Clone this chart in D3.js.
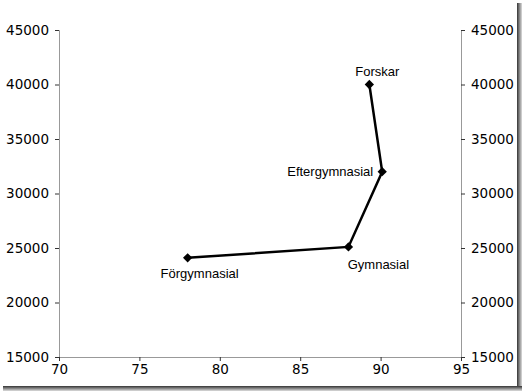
<!DOCTYPE html>
<html>
<head>
<meta charset="utf-8">
<script src="https://cdn.jsdelivr.net/npm/d3@7"></script>
<style>
  body { margin: 0; background: #fff; }
  svg { display: block; }
</style>
</head>
<body>
<div id="chart"></div>
<script>
const categories = ['Förgymnasial', 'Gymnasial', 'Eftergymnasial', 'Forskar']
const xValues = [78, 88, 90.1, 89.3]
const yValues = [24100, 25100, 32000, 40000]
const xTicks = [70, 75, 80, 85, 90, 95]
const yTicks = [15000, 20000, 25000, 30000, 35000, 40000, 45000]

const chartWidth = 522
const chartHeight = 392
const plotLeft = 59
const plotRight = 461
const plotTop = 30
const plotBottom = 357

const svg = d3
  .select('#chart')
  .append('svg')
  .attr('width', chartWidth)
  .attr('height', chartHeight)

// shadow frame
const defs = svg.append('defs')
const gr = defs.append('linearGradient').attr('id', 'shR').attr('x1', 0).attr('x2', 1).attr('y1', 0).attr('y2', 0)
gr.append('stop').attr('offset', 0).attr('stop-color', '#333')
gr.append('stop').attr('offset', 1).attr('stop-color', '#ddd')
const gb = defs.append('linearGradient').attr('id', 'shB').attr('x1', 0).attr('x2', 0).attr('y1', 0).attr('y2', 1)
gb.append('stop').attr('offset', 0).attr('stop-color', '#333')
gb.append('stop').attr('offset', 1).attr('stop-color', '#ddd')

svg.append('rect').attr('x', 517).attr('y', 3).attr('width', 5).attr('height', 388).attr('fill', 'url(#shR)')
svg.append('rect').attr('x', 3).attr('y', 386).attr('width', 519).attr('height', 5).attr('fill', 'url(#shB)')

const scaleX = d3.scaleLinear().domain([70, 95]).range([plotLeft, plotRight])
const scaleY = d3.scaleLinear().domain([15000, 45000]).range([plotBottom, plotTop])

const font = 'Tahoma, "DejaVu Sans", Verdana, sans-serif'
const fmt = d3.format('d')

function styleAxis(g) {
  g.select('.domain').attr('stroke', '#999')
  g.selectAll('.tick line').attr('stroke', '#333')
  g.selectAll('.tick text')
    .attr('fill', '#000')
    .style('font-family', font)
    .style('font-size', '13.5px')
}

svg
  .append('g')
  .attr('transform', 'translate(' + plotLeft + ',0)')
  .call(d3.axisLeft(scaleY).tickValues(yTicks).tickFormat(fmt).tickSizeOuter(0).tickSize(4).tickPadding(6))
  .call(styleAxis)

svg
  .append('g')
  .attr('transform', 'translate(' + plotRight + ',0)')
  .call(d3.axisRight(scaleY).tickValues(yTicks).tickFormat(fmt).tickSizeOuter(0).tickSize(4).tickPadding(6))
  .call(styleAxis)

svg
  .append('g')
  .attr('transform', 'translate(0,' + plotBottom + ')')
  .call(d3.axisBottom(scaleX).tickValues(xTicks).tickFormat(fmt).tickSizeOuter(0).tickSize(4).tickPadding(3))
  .call(styleAxis)

const data = categories.map((c, i) => ({ name: c, x: xValues[i], y: yValues[i] }))

svg
  .append('path')
  .datum(data)
  .attr('fill', 'none')
  .attr('stroke', '#000')
  .attr('stroke-width', 2.5)
  .attr('d', d3.line().x(d => scaleX(d.x)).y(d => scaleY(d.y)))

svg
  .append('g')
  .selectAll('path')
  .data(data)
  .enter()
  .append('path')
  .attr('transform', d => 'translate(' + scaleX(d.x) + ',' + scaleY(d.y) + ')')
  .attr('d', d3.symbol().type(d3.symbolDiamond2).size(55))
  .attr('fill', '#000')

// label offsets relative to point
const labelPos = {
  'Förgymnasial': [12, 20, 'middle'],
  'Gymnasial': [30, 22, 'middle'],
  'Eftergymnasial': [-9, 4, 'end'],
  'Forskar': [8, -9, 'middle'],
}

svg
  .append('g')
  .selectAll('text')
  .data(data)
  .enter()
  .append('text')
  .text(d => d.name)
  .attr('x', d => scaleX(d.x) + labelPos[d.name][0])
  .attr('y', d => scaleY(d.y) + labelPos[d.name][1])
  .attr('text-anchor', d => labelPos[d.name][2])
  .style('font-family', 'Arial, "Liberation Sans", sans-serif')
  .style('font-size', '13px')
  .attr('fill', '#000')
</script>
</body>
</html>
